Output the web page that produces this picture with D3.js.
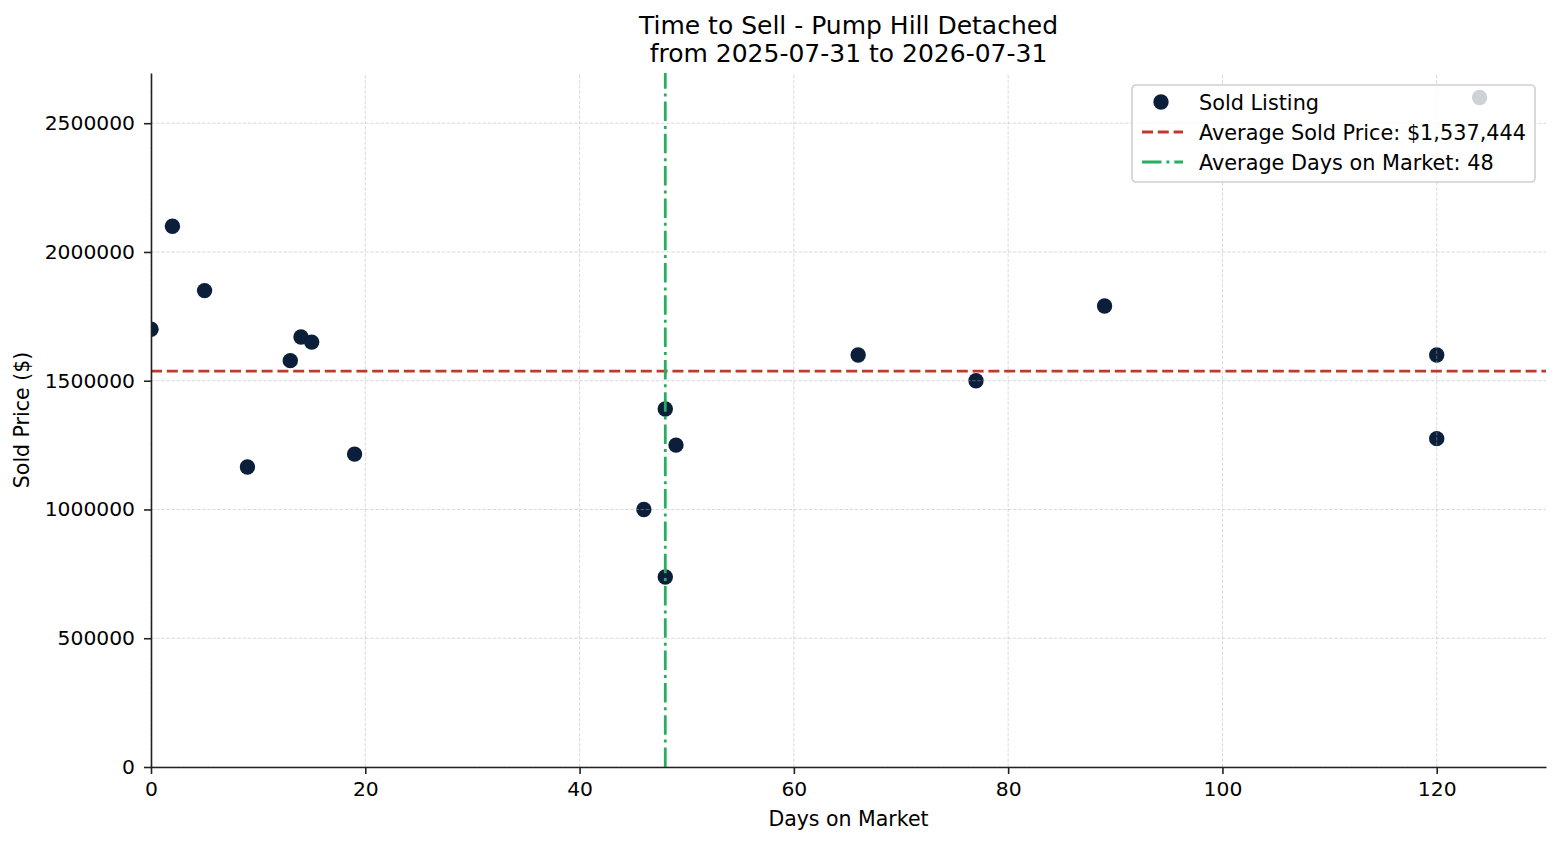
<!DOCTYPE html>
<html>
<head>
<meta charset="utf-8">
<script src="https://cdn.jsdelivr.net/npm/d3@7"></script>
<style>
  body { margin: 0; background: #fff; }
  svg { font-family: "DejaVu Sans", sans-serif; }
</style>
</head>
<body>
<div id="chart"></div>
<script>
// values
var daysOnMarket = [0, 2, 5, 9, 13, 14, 15, 19, 46, 48, 48, 49, 66, 77, 89, 120, 120, 124];
var soldPrice = [1700000, 2100000, 1850000, 1165000, 1578000, 1670000, 1650000, 1215000,
    1000000, 1390000, 738000, 1250000, 1600000, 1500000, 1790000, 1600000, 1275000, 2600000];
var avgSoldPrice = 1537444;
var avgDays = 48;
var xTicks = [0, 20, 40, 60, 80, 100, 120];
var yTicks = [0, 500000, 1000000, 1500000, 2000000, 2500000];
var titleLines = ["Time to Sell - Pump Hill Detached", "from 2025-07-31 to 2026-07-31"];
var legendLabels = ["Sold Listing", "Average Sold Price: $1,537,444", "Average Days on Market: 48"];

var width = 1560;
var height = 845;
var margin = {
    top: 73,
    right: 14,
    bottom: 78,
    left: 151
};

var navy = "#0b1f3a";
var red = "#c0392b";
var green = "#27ae60";

var data = daysOnMarket.map(function (d, i) {
    return { days: d, price: soldPrice[i] };
});

var x = d3.scaleLinear()
    .domain([0, 130.2])
    .range([margin.left, width - margin.right]);
var y = d3.scaleLinear()
    .domain([0, 2695000])
    .range([height - margin.bottom, margin.top]);

var svg = d3.select('#chart').append('svg')
    .attr('width', width)
    .attr('height', height);

svg.append("clipPath")
    .attr("id", "plot-clip")
    .append("rect")
    .attr("x", margin.left)
    .attr("y", margin.top)
    .attr("width", width - margin.left - margin.right)
    .attr("height", height - margin.top - margin.bottom);

// points
svg.append("g")
    .attr("clip-path", "url(#plot-clip)")
    .selectAll("circle")
    .data(data)
    .enter().append("circle")
    .attr("cx", d => x(d.days))
    .attr("cy", d => y(d.price))
    .attr("r", 7.7)
    .attr("fill", navy);

// grid, sits over the points like the original
var grid = svg.append("g")
    .attr("stroke", "#b0b0b0")
    .attr("stroke-opacity", 0.6)
    .attr("stroke-width", 0.8)
    .attr("stroke-dasharray", "3.5,1.6");
grid.selectAll(".gx")
    .data(xTicks)
    .enter().append("line")
    .attr("x1", d => x(d)).attr("x2", d => x(d))
    .attr("y1", y.range()[0]).attr("y2", y.range()[1]);
grid.selectAll(".gy")
    .data(yTicks)
    .enter().append("line")
    .attr("x1", x.range()[0]).attr("x2", x.range()[1])
    .attr("y1", d => y(d)).attr("y2", d => y(d));

// average lines
svg.append("line")
    .attr("x1", x.range()[0]).attr("x2", x.range()[1])
    .attr("y1", y(avgSoldPrice)).attr("y2", y(avgSoldPrice))
    .attr("stroke", red)
    .attr("stroke-width", 2.8)
    .attr("stroke-dasharray", "11,4.8");
svg.append("line")
    .attr("x1", x(avgDays)).attr("x2", x(avgDays))
    .attr("y1", y.range()[0]).attr("y2", y.range()[1])
    .attr("stroke", green)
    .attr("stroke-width", 2.8)
    .attr("stroke-dasharray", "19.5,4.9,3,4.9");

// axes
var xAxis = svg.append("g")
    .attr("transform", 'translate(0,' + (height - margin.bottom) + ')')
    .call(d3.axisBottom(x).tickValues(xTicks).tickSize(7).tickPadding(8).tickSizeOuter(0));
var yAxis = svg.append("g")
    .attr("transform", 'translate(' + margin.left + ',0)')
    .call(d3.axisLeft(y).tickValues(yTicks).tickFormat(d3.format("d")).tickSize(7).tickPadding(9).tickSizeOuter(0));

[xAxis, yAxis].forEach(function (g) {
    g.attr("font-family", null).attr("font-size", null);
    g.selectAll("text").attr("font-size", 20.3).attr("fill", "#000");
    g.selectAll(".tick line").attr("stroke", "#222").attr("stroke-width", 1.6);
    g.select(".domain").attr("stroke", "#222").attr("stroke-width", 1.6);
});

// axis labels and title
svg.append("text")
    .attr("x", (x.range()[0] + x.range()[1]) / 2)
    .attr("y", 826)
    .attr("text-anchor", "middle")
    .attr("font-size", 20.5)
    .text("Days on Market");
svg.append("text")
    .attr("transform", "translate(29," + ((y.range()[0] + y.range()[1]) / 2) + ") rotate(-90)")
    .attr("text-anchor", "middle")
    .attr("font-size", 20.5)
    .text("Sold Price ($)");
svg.append("g").selectAll("text")
    .data(titleLines)
    .enter().append("text")
    .attr("x", (x.range()[0] + x.range()[1]) / 2)
    .attr("y", (d, i) => 34 + i * 28)
    .attr("text-anchor", "middle")
    .attr("font-size", 25)
    .text(d => d);

// legend
var legend = svg.append("g").attr("transform", "translate(1132,85)");
legend.append("rect")
    .attr("width", 403)
    .attr("height", 97)
    .attr("rx", 4)
    .attr("fill", "#fff")
    .attr("fill-opacity", 0.8)
    .attr("stroke", "#d0d0d0")
    .attr("stroke-width", 1.6);
var rows = legend.selectAll(".row")
    .data(legendLabels)
    .enter().append("g")
    .attr("transform", (d, i) => "translate(0," + (17 + i * 30) + ")");
rows.append("text")
    .attr("x", 67)
    .attr("dy", "0.36em")
    .attr("font-size", 20.8)
    .text(d => d);
rows.filter((d, i) => i === 0).append("circle")
    .attr("cx", 29).attr("r", 7.7).attr("fill", navy);
rows.filter((d, i) => i === 1).append("line")
    .attr("x1", 10).attr("x2", 51)
    .attr("stroke", red).attr("stroke-width", 2.8).attr("stroke-dasharray", "11,4.8");
rows.filter((d, i) => i === 2).append("line")
    .attr("x1", 10).attr("x2", 51)
    .attr("stroke", green).attr("stroke-width", 2.8).attr("stroke-dasharray", "19.5,4.9,3,4.9");
</script>
</body>
</html>
